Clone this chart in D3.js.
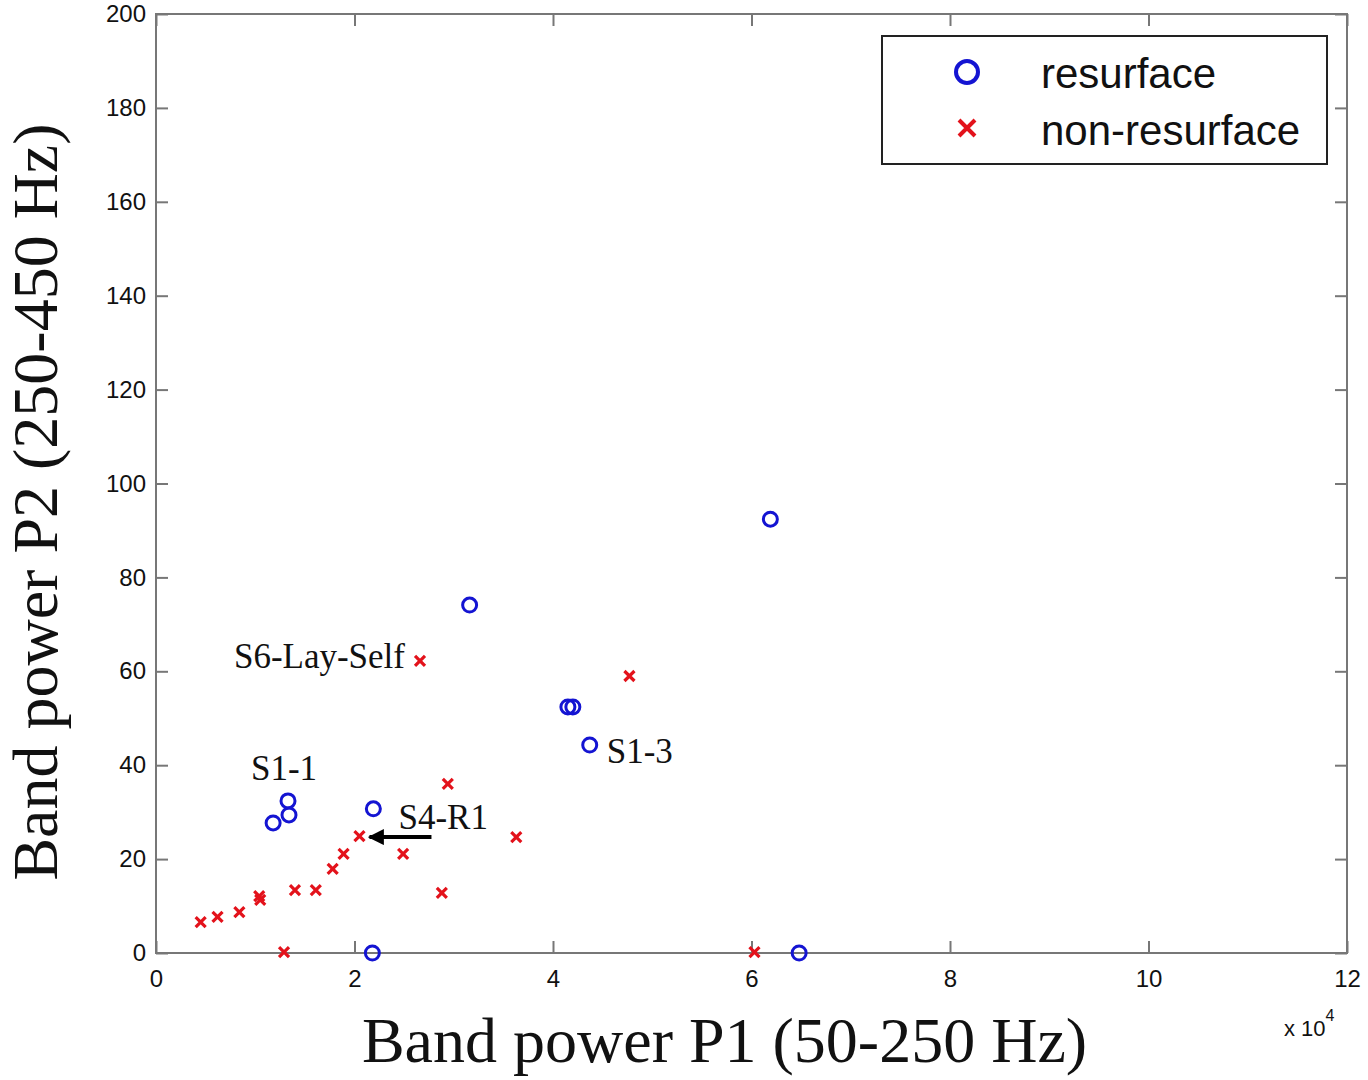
<!DOCTYPE html>
<html>
<head>
<meta charset="utf-8">
<script src="https://cdn.jsdelivr.net/npm/d3@7"></script>
<style>
  body { margin: 0; background: #fff; }
  .tick text { font-family: "Liberation Sans", Arial, sans-serif; font-size: 24px; fill: #111; }
  .tick line { stroke: #777; stroke-width: 2; }
</style>
</head>
<body>
<div id="chart"></div>
<script>
// Data (x in units of 10^4)
const resurfaceX = [6.19, 3.16, 4.15, 4.20, 4.37, 1.33, 1.34, 1.18, 2.19, 2.18, 6.48];
const resurfaceY = [92.4, 74.1, 52.4, 52.4, 44.3, 32.4, 29.4, 27.7, 30.7, 0, 0];
const nonX = [2.66, 4.77, 2.94, 3.63, 2.05, 1.89, 2.49, 1.78, 1.40, 1.61, 2.88, 1.04, 1.05, 0.84, 0.62, 0.45, 1.29, 6.03];
const nonY = [62.2, 59.0, 36.0, 24.7, 24.9, 21.1, 21.1, 17.9, 13.4, 13.4, 12.8, 12.1, 11.3, 8.7, 7.7, 6.6, 0.2, 0.2];
const xTicks = [0, 2, 4, 6, 8, 10, 12];
const yTicks = [0, 20, 40, 60, 80, 100, 120, 140, 160, 180, 200];
const legendLabels = ["resurface", "non-resurface"];
// annotation text and the data point they sit next to
const notes = [
  { text: "S6-Lay-Self", x: 2.66, y: 62.2 },
  { text: "S1-1", x: 1.33, y: 32.4 },
  { text: "S1-3", x: 4.37, y: 44.3 },
  { text: "S4-R1", x: 2.05, y: 24.9 }
];

const margin = { top: 14, right: 21, bottom: 127, left: 156 },
    width = 1368 - margin.left - margin.right,
    height = 1080 - margin.top - margin.bottom;

const blue = "#1414d2", red = "#e3121b";

const svgRoot = d3.select("#chart")
    .append("svg")
    .attr("width", 1368)
    .attr("height", 1080);

const svg = svgRoot.append("g")
    .attr("transform", `translate(${margin.left},${margin.top})`);

const x = d3.scaleLinear().domain([0, 12]).range([0, width]);
const y = d3.scaleLinear().domain([0, 200]).range([height, 0]);

// Axes with inward ticks (box style)
svg.append("g")
    .attr("transform", `translate(0,${height})`)
    .call(d3.axisBottom(x).tickValues(xTicks).tickSize(-12).tickSizeOuter(0).tickPadding(17))
    .call(g => g.select(".domain").remove());
svg.append("g")
    .call(d3.axisLeft(y).tickValues(yTicks).tickSize(-12).tickSizeOuter(0).tickPadding(10))
    .call(g => g.select(".domain").remove());
svg.append("g")
    .call(d3.axisTop(x).tickValues(xTicks).tickSize(-12).tickSizeOuter(0).tickFormat(""))
    .call(g => g.select(".domain").remove());
svg.append("g")
    .attr("transform", `translate(${width},0)`)
    .call(d3.axisRight(y).tickValues(yTicks).tickSize(-12).tickSizeOuter(0).tickFormat(""))
    .call(g => g.select(".domain").remove());

svg.append("rect")
    .attr("width", width)
    .attr("height", height)
    .attr("fill", "none")
    .attr("stroke", "#777")
    .attr("stroke-width", 2);

// Exponent label
const expo = svgRoot.append("text")
    .attr("x", margin.left + width - 63)
    .attr("y", 1036)
    .attr("font-family", "Liberation Sans, Arial, sans-serif")
    .attr("font-size", 22)
    .attr("fill", "#111");
expo.append("tspan").text("x 10");
expo.append("tspan").attr("dy", -15).attr("font-size", 16).text("4");

// Axis titles
svgRoot.append("text")
    .attr("x", margin.left + width / 2 - 27)
    .attr("y", 1062)
    .attr("text-anchor", "middle")
    .attr("font-family", "Liberation Serif, Times New Roman, serif")
    .attr("font-size", 64)
    .attr("fill", "#111")
    .text("Band power P1 (50-250 Hz)");

svgRoot.append("text")
    .attr("transform", "translate(57,502) rotate(-90)")
    .attr("text-anchor", "middle")
    .attr("font-family", "Liberation Serif, Times New Roman, serif")
    .attr("font-size", 64)
    .attr("fill", "#111")
    .text("Band power P2 (250-450 Hz)");

// Points
const resData = resurfaceX.map((v, i) => ({ x: v, y: resurfaceY[i] }));
const nonData = nonX.map((v, i) => ({ x: v, y: nonY[i] }));

const cross = s => `M${-s},${-s}L${s},${s}M${-s},${s}L${s},${-s}`;

svg.selectAll(".non")
    .data(nonData)
    .enter()
    .append("path")
    .attr("class", "non")
    .attr("transform", d => `translate(${x(d.x)},${y(d.y)})`)
    .attr("d", cross(5))
    .attr("stroke", red)
    .attr("stroke-width", 3.2)
    .attr("fill", "none");

svg.selectAll(".res")
    .data(resData)
    .enter()
    .append("circle")
    .attr("class", "res")
    .attr("cx", d => x(d.x))
    .attr("cy", d => y(d.y))
    .attr("r", 7)
    .attr("fill", "none")
    .attr("stroke", blue)
    .attr("stroke-width", 3);

// Annotations
const noteOffsets = {
  "S6-Lay-Self": { dx: -15, dy: 7, anchor: "end" },
  "S1-1": { dx: -37, dy: -21, anchor: "start" },
  "S1-3": { dx: 17, dy: 18, anchor: "start" },
  "S4-R1": { dx: 39, dy: -7, anchor: "start" }
};

svg.selectAll(".note")
    .data(notes)
    .enter()
    .append("text")
    .attr("class", "note")
    .attr("x", d => x(d.x) + noteOffsets[d.text].dx)
    .attr("y", d => y(d.y) + noteOffsets[d.text].dy)
    .attr("text-anchor", d => noteOffsets[d.text].anchor)
    .attr("font-family", "Liberation Serif, Times New Roman, serif")
    .attr("font-size", 35)
    .attr("fill", "#111")
    .text(d => d.text);

// Arrow pointing at S4-R1 point
svgRoot.append("defs").append("marker")
    .attr("id", "head")
    .attr("viewBox", "0 0 10 10")
    .attr("refX", 9)
    .attr("refY", 5)
    .attr("markerWidth", 4)
    .attr("markerHeight", 4)
    .attr("orient", "auto")
    .append("path")
    .attr("d", "M0,0L10,5L0,10Z")
    .attr("fill", "#000");

const s4 = notes[3];
svg.append("line")
    .attr("x1", x(s4.x) + 72)
    .attr("y1", y(s4.y) + 1)
    .attr("x2", x(s4.x) + 10)
    .attr("y2", y(s4.y) + 1)
    .attr("stroke", "#000")
    .attr("stroke-width", 4)
    .attr("marker-end", "url(#head)");

// Legend
const legend = svgRoot.append("g");
legend.append("rect")
    .attr("x", 882)
    .attr("y", 36)
    .attr("width", 445)
    .attr("height", 128)
    .attr("fill", "#fff")
    .attr("stroke", "#222")
    .attr("stroke-width", 2);

legend.append("circle")
    .attr("cx", 967)
    .attr("cy", 72)
    .attr("r", 11)
    .attr("fill", "none")
    .attr("stroke", blue)
    .attr("stroke-width", 4);

legend.append("path")
    .attr("transform", "translate(967,128)")
    .attr("d", cross(8))
    .attr("stroke", red)
    .attr("stroke-width", 4)
    .attr("fill", "none");

legend.selectAll(".lab")
    .data(legendLabels)
    .enter()
    .append("text")
    .attr("class", "lab")
    .attr("x", 1041)
    .attr("y", (d, i) => 88 + i * 57)
    .attr("font-family", "Liberation Sans, Arial, sans-serif")
    .attr("font-size", 42)
    .attr("fill", "#111")
    .text(d => d);
</script>
</body>
</html>
